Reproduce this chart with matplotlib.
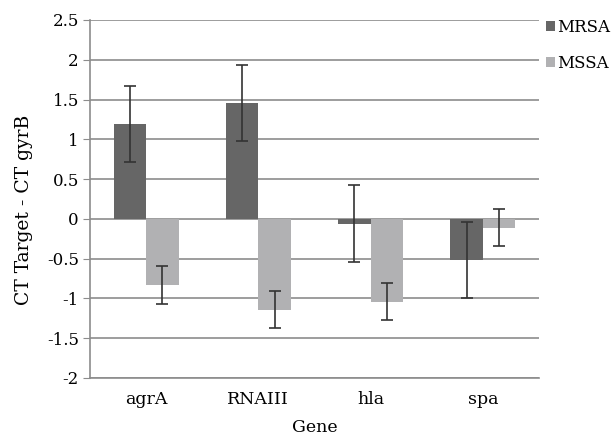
import numpy as np
import matplotlib
matplotlib.use("Agg")
import matplotlib.pyplot as plt

genes = ["agrA", "RNAIII", "hla", "spa"]
mrsa = [1.19, 1.46, -0.06, -0.52]
mrsa_err = [0.48, 0.48, 0.48, 0.48]
mssa = [-0.83, -1.14, -1.04, -0.11]
mssa_err = [0.235, 0.235, 0.23, 0.23]
yticks = [-2, -1.5, -1, -0.5, 0, 0.5, 1, 1.5, 2, 2.5]

plt.rcParams["font.family"] = ["DejaVu Serif"]

fig = plt.figure(figsize=(6.15, 4.37), dpi=100)
ax = fig.add_axes([90 / 615, 59 / 437, 449 / 615, 358 / 437])

x = np.arange(len(genes))
w = 0.29
err_kw = dict(ecolor="#333333", elinewidth=1.2, capsize=4, capthick=1.2)
ax.bar(x - w / 2, mrsa, w, yerr=mrsa_err, color="#666666", label="MRSA",
       error_kw=err_kw, zorder=3)
ax.bar(x + w / 2, mssa, w, yerr=mssa_err, color="#b1b1b3", label="MSSA",
       error_kw=err_kw, zorder=3)

ax.set_xlim(-0.5, len(genes) - 0.5)
ax.set_ylim(-2, 2.5)
ax.set_yticks(yticks)
ax.set_yticklabels([f"{v:g}" for v in yticks])
ax.set_xticks(x)
ax.set_xticklabels(genes)
ax.yaxis.grid(True, color="#8c8c8c", linewidth=1.2, zorder=0)
ax.set_axisbelow(True)

for s in ["top", "right"]:
    ax.spines[s].set_visible(False)
for s in ["left", "bottom"]:
    ax.spines[s].set_color("#8c8c8c")
    ax.spines[s].set_linewidth(1.2)
ax.tick_params(axis="y", length=5, color="#8c8c8c", labelsize=12, pad=3)
ax.tick_params(axis="x", length=0, labelsize=12.5, pad=9)

ax.set_xlabel("Gene", fontsize=12.5, labelpad=8)
ax.set_ylabel("CT Target - CT gyrB", fontsize=13.5)
ax.yaxis.set_label_coords(-0.128, 0.47)

fig.legend(loc="upper left", bbox_to_anchor=(546 / 615, 1 - 19 / 437),
           bbox_transform=fig.transFigure, frameon=False, fontsize=12,
           handlelength=0.55, handleheight=0.55, handletextpad=0.12,
           labelspacing=1.15, borderaxespad=0, borderpad=0)

fig.savefig("out.png", dpi=100)
